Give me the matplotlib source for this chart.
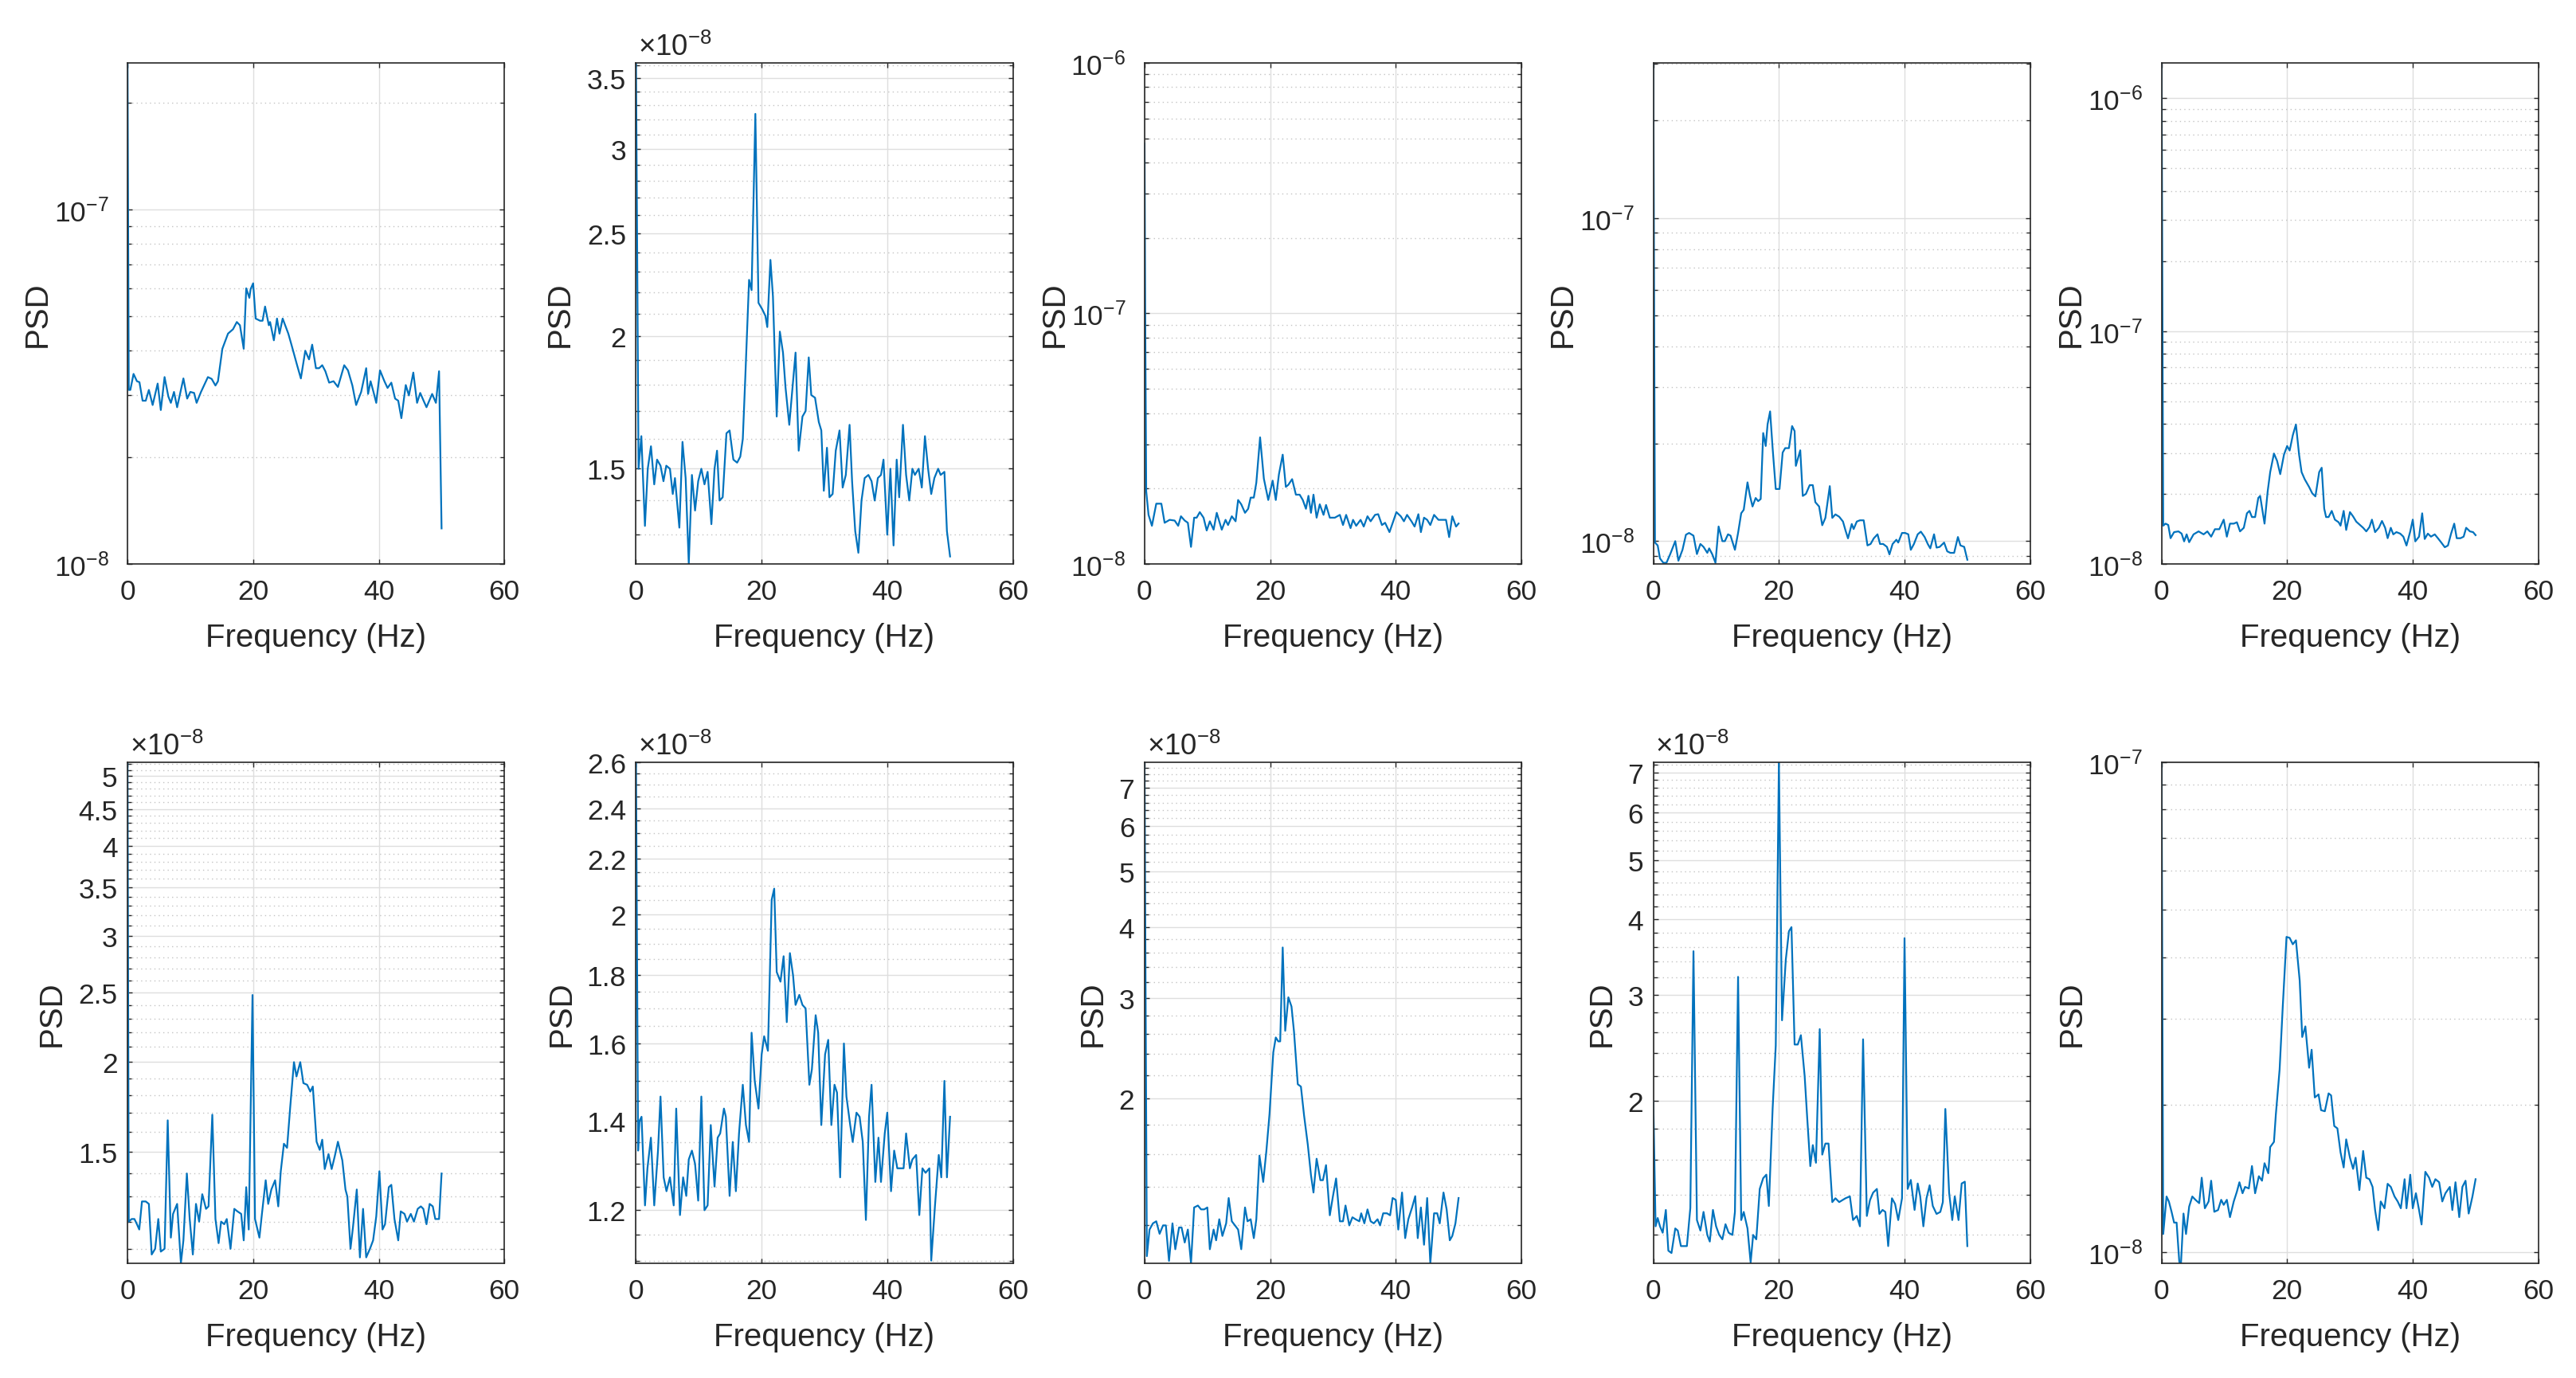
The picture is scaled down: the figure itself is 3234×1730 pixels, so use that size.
import numpy as np
import matplotlib.pyplot as plt
from matplotlib.ticker import (FixedLocator, FuncFormatter, LogLocator,
                               LogFormatterSciNotation, NullFormatter)

plt.rcParams['font.family'] = ['Liberation Sans', 'DejaVu Sans']
plt.rcParams['axes.unicode_minus'] = False
plt.rcParams['mathtext.fontset'] = 'custom'
plt.rcParams['mathtext.rm'] = 'Liberation Sans'

# PSD, units of 1e-8: (frequency Hz, value)
SCALE = 1e-8

psd_1 = [(0, 26.0), (0.2, 3.1), (0.45, 3.10), (0.96, 3.44), (1.5, 3.28), (1.9, 3.26), (2.4, 2.89), (2.9, 2.89),
         (3.4, 3.10), (4.0, 2.81), (4.8, 3.23), (5.3, 2.72), (5.9, 3.37), (6.5, 2.97), (6.9, 2.85), (7.4, 3.06),
         (7.9, 2.77), (8.9, 3.34), (9.5, 2.93), (10.0, 3.06), (10.6, 3.04), (11.0, 2.85), (11.7, 3.06), (12.8, 3.37),
         (13.4, 3.33), (14.0, 3.19), (14.4, 3.28), (15.1, 4.05), (16.0, 4.47), (16.8, 4.60), (17.4, 4.82), (17.9, 4.72),
         (18.5, 4.05), (18.9, 6.00), (19.4, 5.64), (19.6, 5.97), (20.0, 6.20), (20.4, 4.93), (21.1, 4.86), (21.5, 4.86),
         (21.9, 5.33), (22.5, 4.72), (22.7, 4.82), (23.3, 4.28), (23.8, 4.93), (24.2, 4.47), (24.7, 4.93), (25.6, 4.47),
         (26.1, 4.16), (27.0, 3.64), (27.6, 3.34), (28.3, 4.00), (28.9, 3.78), (29.4, 4.16), (30.0, 3.57), (30.5, 3.57),
         (31.0, 3.64), (31.5, 3.50), (32.1, 3.25), (32.8, 3.28), (33.5, 3.16), (34.5, 3.64), (35.1, 3.52), (35.8, 3.19),
         (36.4, 2.81), (37.2, 3.06), (38.0, 3.57), (38.3, 3.02), (38.7, 3.28), (39.2, 3.04), (39.6, 2.85), (40.2, 3.52),
         (40.9, 3.28), (41.4, 3.14), (42.0, 3.25), (42.6, 2.93), (43.1, 2.89), (43.6, 2.58), (44.3, 3.20), (44.8, 2.99),
         (45.5, 3.47), (46.1, 2.85), (46.6, 3.04), (47.1, 2.90), (47.6, 2.77), (48.5, 3.02), (49.1, 2.85), (49.6, 3.50),
         (50.0, 1.26)]

psd_2 = [(0, 3.62), (0.4, 1.50), (0.85, 1.61), (1.42, 1.325), (1.87, 1.50), (2.38, 1.575), (2.9, 1.45), (3.35, 1.53),
         (3.9, 1.51), (4.37, 1.46), (4.82, 1.51), (5.4, 1.50), (5.85, 1.42), (6.2, 1.47), (6.9, 1.32), (7.4, 1.59),
         (7.9, 1.47), (8.4, 1.22), (8.9, 1.48), (9.4, 1.37), (9.9, 1.46), (10.4, 1.50), (10.9, 1.45), (11.4, 1.49),
         (12.0, 1.33), (12.5, 1.50), (12.9, 1.56), (13.3, 1.40), (13.8, 1.41), (14.4, 1.62), (14.9, 1.63), (15.5, 1.53),
         (16.1, 1.52), (16.6, 1.54), (17.0, 1.60), (17.4, 1.83), (18.0, 2.26), (18.4, 2.21), (19.0, 3.24), (19.5, 2.15),
         (20.1, 2.12), (20.6, 2.09), (20.9, 2.04), (21.4, 2.36), (21.8, 2.18), (22.4, 1.68), (22.9, 2.02), (23.4, 1.93),
         (23.8, 1.79), (24.4, 1.65), (25.4, 1.93), (25.9, 1.56), (26.5, 1.68), (27.0, 1.70), (27.5, 1.91), (27.9, 1.76),
         (28.5, 1.75), (29.1, 1.66), (29.5, 1.63), (29.9, 1.43), (30.4, 1.57), (30.8, 1.41), (31.3, 1.42), (31.8, 1.56),
         (32.4, 1.63), (32.9, 1.44), (33.4, 1.48), (34.0, 1.65), (34.4, 1.46), (34.9, 1.31), (35.4, 1.25), (35.9, 1.40),
         (36.4, 1.47), (37.0, 1.48), (37.5, 1.46), (38.0, 1.40), (38.5, 1.47), (39.0, 1.48), (39.4, 1.53), (40.0, 1.30),
         (40.5, 1.50), (41.0, 1.27), (41.5, 1.53), (41.9, 1.41), (42.5, 1.65), (43.0, 1.48), (43.5, 1.40), (44.0, 1.50),
         (44.4, 1.48), (45.0, 1.50), (45.5, 1.44), (46.0, 1.61), (46.5, 1.50), (47.0, 1.42), (47.5, 1.47), (48.1, 1.50),
         (48.5, 1.48), (49.1, 1.49), (49.5, 1.31), (50.0, 1.24)]

psd_3 = [(0, 47.6), (0.1, 11.2), (0.27, 1.95), (0.64, 1.57), (1.18, 1.42), (1.87, 1.74), (2.68, 1.74), (3.2, 1.46),
         (4.0, 1.50), (4.8, 1.49), (5.36, 1.42), (5.8, 1.55), (6.4, 1.49), (6.9, 1.46), (7.4, 1.17), (7.9, 1.53),
         (8.3, 1.53), (8.8, 1.61), (9.4, 1.53), (9.9, 1.36), (10.4, 1.48), (11.0, 1.37), (11.5, 1.60), (12.3, 1.37),
         (12.9, 1.50), (13.3, 1.43), (13.9, 1.55), (14.5, 1.48), (14.9, 1.80), (15.4, 1.73), (16.0, 1.60), (16.5, 1.66),
         (16.9, 1.84), (17.4, 1.84), (17.8, 2.11), (18.4, 3.20), (19.0, 2.19), (19.7, 1.80), (20.4, 2.15), (20.9, 1.80),
         (21.4, 2.28), (22.0, 2.73), (22.5, 2.03), (22.9, 2.07), (23.5, 2.18), (24.1, 1.89), (24.7, 1.89), (25.2, 1.80),
         (25.7, 1.66), (26.1, 1.87), (26.5, 1.60), (26.9, 1.89), (27.4, 1.53), (27.9, 1.73), (28.5, 1.57), (28.9, 1.72),
         (29.5, 1.53), (30.3, 1.53), (31.1, 1.57), (31.6, 1.43), (32.1, 1.57), (32.8, 1.39), (33.2, 1.50), (33.7, 1.42),
         (34.4, 1.50), (34.9, 1.41), (35.5, 1.55), (36.0, 1.48), (36.7, 1.57), (37.2, 1.58), (37.8, 1.43), (38.3, 1.46),
         (39.0, 1.34), (39.6, 1.48), (40.1, 1.61), (40.8, 1.55), (41.3, 1.48), (41.8, 1.57), (42.5, 1.48), (43.0, 1.41),
         (43.6, 1.58), (44.0, 1.34), (44.5, 1.53), (45.0, 1.50), (45.5, 1.43), (46.1, 1.57), (46.8, 1.50), (47.4, 1.50),
         (48.0, 1.50), (48.5, 1.28), (49.0, 1.55), (49.6, 1.41), (50.0, 1.45)]

psd_4 = [(0, 30.2), (0.27, 0.99), (0.7, 0.97), (1.07, 0.884), (1.6, 0.857), (2.1, 0.857), (2.7, 0.912), (3.5, 1.0),
         (4.0, 0.87), (4.65, 0.94), (5.2, 1.047), (5.7, 1.06), (6.4, 1.04), (6.95, 0.912), (7.5, 0.98), (8.0, 0.96),
         (8.6, 0.92), (8.9, 0.95), (9.4, 0.91), (9.9, 0.857), (10.4, 1.11), (11.0, 1.0), (11.4, 1.0), (11.9, 1.05),
         (12.3, 1.04), (13.0, 0.94), (13.5, 1.06), (14.0, 1.22), (14.4, 1.25), (15.0, 1.52), (15.4, 1.38), (15.8, 1.28),
         (16.3, 1.36), (16.7, 1.33), (17.1, 1.35), (17.5, 2.16), (17.9, 1.97), (18.2, 2.30), (18.6, 2.52), (19.0, 1.94),
         (19.5, 1.45), (20.1, 1.45), (20.6, 1.88), (21.0, 1.94), (21.6, 1.94), (22.1, 2.27), (22.5, 2.19), (22.7, 1.71),
         (23.4, 1.91), (23.8, 1.38), (24.3, 1.40), (24.9, 1.49), (25.4, 1.49), (25.8, 1.32), (26.4, 1.28), (26.9, 1.12),
         (27.4, 1.18), (28.1, 1.48), (28.5, 1.18), (29.0, 1.21), (29.6, 1.19), (30.2, 1.15), (30.6, 1.08), (31.0, 1.02),
         (31.6, 1.13), (31.9, 1.09), (32.4, 1.15), (32.9, 1.16), (33.5, 1.16), (34.1, 0.97), (34.6, 0.98), (35.1, 1.02),
         (35.7, 1.05), (36.1, 0.98), (36.6, 0.98), (37.2, 0.96), (37.6, 0.91), (38.1, 0.98), (38.7, 1.01), (39.0, 0.99),
         (39.6, 1.06), (40.1, 1.06), (40.6, 1.05), (41.0, 0.94), (41.5, 0.98), (42.1, 1.05), (42.6, 1.07), (43.2, 1.03),
         (43.7, 0.98), (44.1, 0.95), (44.7, 1.05), (45.1, 0.955), (45.6, 0.96), (46.3, 0.99), (46.8, 0.93), (47.3, 0.92),
         (47.9, 0.92), (48.5, 1.03), (48.9, 0.97), (49.5, 0.96), (50.0, 0.876)]

psd_5 = [(0, 142.0), (0.27, 1.46), (0.64, 1.49), (1.07, 1.47), (1.44, 1.29), (2.0, 1.37), (2.7, 1.38), (3.2, 1.35),
         (3.6, 1.25), (4.0, 1.34), (4.4, 1.24), (5.1, 1.34), (5.9, 1.38), (6.7, 1.34), (7.3, 1.38), (7.9, 1.31),
         (8.5, 1.41), (9.2, 1.41), (9.9, 1.55), (10.4, 1.31), (10.9, 1.49), (11.5, 1.49), (12.0, 1.51), (12.5, 1.38),
         (13.1, 1.43), (13.6, 1.65), (14.0, 1.69), (14.4, 1.59), (14.9, 1.59), (15.4, 1.92), (15.7, 1.96), (16.4, 1.49),
         (16.9, 2.05), (17.3, 2.48), (17.9, 2.98), (18.4, 2.77), (18.9, 2.43), (19.5, 2.95), (20.0, 3.21), (20.4, 3.07),
         (20.9, 3.57), (21.4, 3.97), (21.9, 2.95), (22.3, 2.48), (22.8, 2.31), (23.5, 2.14), (24.0, 2.01), (24.5, 1.95),
         (25.1, 2.48), (25.5, 2.59), (25.9, 1.73), (26.2, 1.59), (26.6, 1.59), (27.1, 1.69), (27.6, 1.55), (28.2, 1.51),
         (28.5, 1.46), (29.0, 1.69), (29.4, 1.40), (30.0, 1.67), (30.5, 1.60), (31.0, 1.52), (31.6, 1.47), (32.1, 1.43),
         (32.6, 1.38), (33.1, 1.44), (33.5, 1.55), (34.0, 1.37), (34.6, 1.43), (35.1, 1.53), (35.6, 1.43), (36.0, 1.29),
         (36.5, 1.43), (36.9, 1.34), (37.4, 1.37), (38.0, 1.35), (38.5, 1.31), (39.0, 1.20), (39.6, 1.38), (40.0, 1.55),
         (40.4, 1.25), (41.0, 1.31), (41.5, 1.65), (41.9, 1.28), (42.4, 1.35), (42.9, 1.31), (43.5, 1.34), (44.0, 1.29),
         (44.5, 1.24), (45.1, 1.18), (45.6, 1.20), (46.1, 1.35), (46.6, 1.49), (47.0, 1.29), (47.6, 1.29), (48.1, 1.31),
         (48.5, 1.43), (49.1, 1.38), (49.6, 1.37), (50.0, 1.33)]

psd_6 = [(0, 5.23), (0.2, 1.20), (0.66, 1.21), (1.1, 1.21), (1.5, 1.19), (1.87, 1.17), (2.3, 1.28), (2.9, 1.28),
         (3.4, 1.27), (3.85, 1.08), (4.4, 1.10), (4.9, 1.21), (5.3, 1.09), (5.9, 1.10), (6.4, 1.66), (6.9, 1.14),
         (7.25, 1.23), (7.9, 1.27), (8.5, 1.05), (8.9, 1.13), (9.45, 1.40), (9.9, 1.21), (10.4, 1.08), (10.9, 1.27),
         (11.4, 1.20), (11.9, 1.31), (12.5, 1.25), (12.9, 1.26), (13.5, 1.69), (14.0, 1.21), (14.5, 1.12), (14.9, 1.20),
         (15.4, 1.19), (15.8, 1.21), (16.4, 1.10), (17.0, 1.25), (17.5, 1.24), (18.1, 1.23), (18.5, 1.13), (18.9, 1.34),
         (19.3, 1.17), (19.9, 2.48), (20.3, 1.21), (21.0, 1.14), (21.4, 1.23), (22.0, 1.37), (22.4, 1.27), (22.9, 1.33),
         (23.5, 1.37), (24.0, 1.26), (24.4, 1.41), (24.9, 1.54), (25.4, 1.52), (25.9, 1.73), (26.5, 2.00), (26.9, 1.91),
         (27.5, 2.00), (28.0, 1.87), (28.6, 1.86), (29.1, 1.82), (29.5, 1.85), (30.1, 1.55), (30.6, 1.51), (31.0, 1.56),
         (31.4, 1.42), (32.0, 1.49), (32.5, 1.42), (33.0, 1.48), (33.5, 1.55), (34.2, 1.46), (34.7, 1.33), (35.0, 1.30),
         (35.5, 1.10), (35.9, 1.18), (36.5, 1.33), (37.0, 1.07), (37.5, 1.25), (38.0, 1.07), (38.6, 1.10), (39.1, 1.13),
         (39.6, 1.22), (40.1, 1.41), (40.6, 1.17), (41.0, 1.19), (41.6, 1.34), (42.0, 1.35), (42.5, 1.21), (43.1, 1.13),
         (43.5, 1.24), (44.1, 1.23), (44.5, 1.20), (45.1, 1.23), (45.6, 1.20), (46.2, 1.25), (46.7, 1.26), (47.1, 1.25),
         (47.6, 1.19), (48.1, 1.27), (48.6, 1.26), (49.0, 1.21), (49.6, 1.21), (50.0, 1.40)]

psd_7 = [(0, 2.60), (0.33, 1.33), (0.55, 1.40), (0.88, 1.41), (1.43, 1.21), (1.82, 1.29), (2.37, 1.36), (2.9, 1.21),
         (3.5, 1.33), (3.9, 1.46), (4.4, 1.27), (4.85, 1.24), (5.4, 1.27), (6.0, 1.21), (6.4, 1.43), (7.0, 1.19),
         (7.5, 1.27), (8.0, 1.23), (8.4, 1.31), (8.9, 1.33), (9.4, 1.30), (9.9, 1.22), (10.4, 1.46), (10.9, 1.20),
         (11.4, 1.21), (11.9, 1.39), (12.5, 1.25), (13.0, 1.36), (13.4, 1.37), (14.0, 1.43), (14.3, 1.41), (14.9, 1.23),
         (15.4, 1.35), (15.9, 1.24), (16.4, 1.37), (17.0, 1.49), (17.5, 1.39), (18.0, 1.35), (18.4, 1.63), (18.9, 1.50),
         (19.5, 1.43), (20.0, 1.57), (20.4, 1.62), (21.0, 1.58), (21.6, 2.05), (22.0, 2.09), (22.4, 1.81), (23.0, 1.78),
         (23.5, 1.86), (24.0, 1.66), (24.5, 1.87), (25.0, 1.80), (25.4, 1.71), (26.0, 1.74), (26.5, 1.71), (27.0, 1.70),
         (27.6, 1.49), (28.0, 1.53), (28.6, 1.68), (29.0, 1.63), (29.5, 1.39), (30.1, 1.57), (30.6, 1.61), (31.1, 1.39),
         (31.6, 1.49), (32.0, 1.47), (32.5, 1.27), (33.1, 1.60), (33.5, 1.46), (34.1, 1.39), (34.5, 1.35), (35.1, 1.42),
         (35.6, 1.41), (36.1, 1.35), (36.6, 1.18), (37.1, 1.41), (37.5, 1.49), (38.1, 1.26), (38.6, 1.36), (39.0, 1.26),
         (39.6, 1.37), (40.0, 1.42), (40.6, 1.24), (41.1, 1.33), (41.6, 1.29), (42.1, 1.29), (42.6, 1.29), (43.0, 1.37),
         (43.6, 1.29), (44.0, 1.31), (44.6, 1.32), (45.1, 1.19), (45.6, 1.29), (46.1, 1.28), (46.7, 1.29), (47.0, 1.10),
         (47.6, 1.21), (48.2, 1.32), (48.6, 1.27), (49.1, 1.50), (49.5, 1.27), (50.0, 1.41)]

psd_8 = [(0, 7.77), (0.37, 1.06), (0.8, 1.18), (1.34, 1.21), (1.87, 1.22), (2.4, 1.16), (2.95, 1.20), (3.4, 1.20),
         (3.9, 1.04), (4.45, 1.21), (4.9, 1.09), (5.5, 1.19), (5.9, 1.19), (6.4, 1.12), (6.9, 1.18), (7.4, 1.03),
         (7.9, 1.29), (8.5, 1.30), (9.0, 1.28), (9.5, 1.28), (10.0, 1.29), (10.4, 1.09), (11.0, 1.18), (11.4, 1.13),
         (11.9, 1.23), (12.4, 1.15), (13.0, 1.21), (13.4, 1.34), (13.9, 1.22), (14.4, 1.20), (14.9, 1.18), (15.4, 1.09),
         (16.0, 1.29), (16.4, 1.22), (16.9, 1.23), (17.4, 1.14), (17.8, 1.23), (18.3, 1.59), (18.9, 1.43), (19.4, 1.62),
         (19.9, 1.88), (20.5, 2.41), (20.9, 2.56), (21.3, 2.52), (21.6, 2.52), (22.0, 3.68), (22.4, 2.63), (22.9, 3.01),
         (23.4, 2.90), (23.8, 2.62), (24.4, 2.12), (24.9, 2.10), (25.4, 1.87), (26.0, 1.66), (26.5, 1.47), (26.9, 1.37),
         (27.4, 1.57), (28.0, 1.44), (28.4, 1.44), (28.9, 1.53), (29.5, 1.25), (30.0, 1.35), (30.5, 1.45), (31.1, 1.22),
         (31.6, 1.22), (32.0, 1.30), (32.6, 1.20), (33.1, 1.24), (33.6, 1.23), (34.2, 1.22), (34.5, 1.26), (35.0, 1.21),
         (35.5, 1.28), (36.0, 1.22), (36.5, 1.21), (37.1, 1.23), (37.5, 1.20), (38.0, 1.26), (38.6, 1.26), (39.1, 1.25),
         (39.5, 1.34), (40.0, 1.33), (40.4, 1.18), (41.0, 1.37), (41.5, 1.14), (42.0, 1.23), (42.6, 1.29), (43.1, 1.35),
         (43.5, 1.14), (44.0, 1.29), (44.5, 1.11), (45.0, 1.34), (45.5, 1.03), (46.1, 1.26), (46.6, 1.26), (47.0, 1.21),
         (47.6, 1.37), (48.1, 1.28), (48.6, 1.13), (49.0, 1.15), (49.5, 1.21), (50.0, 1.34)]

psd_9 = [(0, 2.0), (0.37, 1.24), (0.7, 1.28), (1.07, 1.24), (1.5, 1.21), (2.0, 1.32), (2.4, 1.13), (2.9, 1.12),
         (3.5, 1.23), (3.9, 1.22), (4.4, 1.15), (5.35, 1.15), (5.9, 1.33), (6.4, 3.54), (6.95, 1.27), (7.5, 1.22),
         (8.0, 1.31), (8.6, 1.20), (9.0, 1.17), (9.5, 1.32), (10.0, 1.24), (10.5, 1.20), (11.0, 1.18), (11.5, 1.25),
         (12.0, 1.21), (12.6, 1.20), (13.0, 1.31), (13.5, 3.21), (14.0, 1.27), (14.4, 1.31), (15.0, 1.23), (15.5, 1.08),
         (15.9, 1.20), (16.4, 1.18), (16.95, 1.43), (17.5, 1.49), (18.0, 1.51), (18.4, 1.34), (19.0, 1.94), (19.5, 2.47),
         (20.0, 7.28), (20.5, 2.72), (21.1, 3.43), (21.6, 3.82), (22.0, 3.88), (22.5, 2.48), (23.0, 2.48), (23.5, 2.57),
         (24.1, 2.20), (24.5, 1.88), (25.0, 1.56), (25.4, 1.69), (25.9, 1.58), (26.5, 2.63), (26.9, 1.63), (27.4, 1.70),
         (27.9, 1.70), (28.5, 1.36), (29.0, 1.38), (29.6, 1.36), (30.1, 1.37), (30.6, 1.38), (31.3, 1.39), (31.8, 1.27),
         (32.4, 1.29), (32.9, 1.24), (33.4, 2.53), (34.0, 1.29), (34.5, 1.37), (35.0, 1.41), (35.6, 1.43), (36.0, 1.30),
         (36.5, 1.32), (36.95, 1.31), (37.4, 1.15), (38.0, 1.38), (38.5, 1.35), (39.0, 1.27), (39.6, 1.38), (40.0, 3.72),
         (40.5, 1.43), (41.0, 1.48), (41.6, 1.32), (42.1, 1.46), (42.5, 1.39), (43.0, 1.24), (43.5, 1.38), (44.0, 1.45),
         (44.5, 1.34), (45.1, 1.30), (45.7, 1.31), (46.1, 1.36), (46.5, 1.94), (47.1, 1.41), (47.6, 1.27), (48.0, 1.39),
         (48.6, 1.27), (49.1, 1.46), (49.6, 1.47), (50.0, 1.15)]

psd_10 = [(0, 10.0), (0.27, 1.09), (0.8, 1.30), (1.17, 1.27), (1.6, 1.21), (2.0, 1.15), (2.4, 1.15), (2.83, 0.956),
          (3.1, 0.95), (3.5, 1.20), (3.9, 1.09), (4.4, 1.24), (4.9, 1.30), (5.4, 1.28), (6.0, 1.26), (6.4, 1.42),
          (6.9, 1.23), (7.5, 1.27), (7.9, 1.40), (8.4, 1.21), (9.0, 1.22), (9.5, 1.28), (9.9, 1.25), (10.4, 1.28),
          (10.9, 1.18), (11.5, 1.27), (12.0, 1.33), (12.4, 1.39), (12.9, 1.32), (13.3, 1.36), (13.9, 1.35), (14.4, 1.50),
          (14.9, 1.32), (15.5, 1.43), (16.0, 1.40), (16.4, 1.52), (17.0, 1.45), (17.3, 1.64), (17.9, 1.68), (18.2, 1.91),
          (18.8, 2.36), (19.3, 3.17), (19.9, 4.40), (20.4, 4.38), (20.9, 4.25), (21.4, 4.33), (22.0, 3.58), (22.4, 2.75),
          (22.9, 2.89), (23.5, 2.38), (23.9, 2.59), (24.4, 2.07), (25.0, 2.10), (25.4, 1.95), (26.0, 1.94), (26.6, 2.11),
          (27.0, 2.09), (27.5, 1.81), (28.0, 1.79), (28.5, 1.60), (29.0, 1.49), (29.4, 1.70), (30.0, 1.56), (30.5, 1.48),
          (30.9, 1.56), (31.5, 1.34), (32.1, 1.61), (32.6, 1.42), (33.1, 1.41), (33.6, 1.36), (34.0, 1.22), (34.5, 1.11),
          (34.9, 1.27), (35.5, 1.23), (36.0, 1.38), (36.5, 1.36), (37.1, 1.30), (37.6, 1.27), (38.1, 1.23), (38.7, 1.41),
          (39.0, 1.23), (39.6, 1.44), (40.0, 1.23), (40.5, 1.32), (41.0, 1.22), (41.4, 1.14), (42.0, 1.46), (42.6, 1.42),
          (43.1, 1.36), (43.6, 1.41), (44.2, 1.39), (44.7, 1.27), (45.2, 1.32), (45.9, 1.36), (46.3, 1.22), (46.8, 1.39),
          (47.4, 1.18), (47.9, 1.36), (48.4, 1.40), (48.9, 1.20), (49.5, 1.30), (50.0, 1.41)]

panels = [psd_1, psd_2, psd_3, psd_4, psd_5, psd_6, psd_7, psd_8, psd_9, psd_10]

# y limits (units of 1e-8)
ylims = [(1.0, 26.0), (1.22, 3.62), (1.0, 100.0), (0.85, 30.2), (1.0, 142.0),
         (1.05, 5.23), (1.095, 2.60), (1.03, 7.77), (1.077, 7.28), (0.95, 10.0)]

# None -> decade labels; otherwise labelled ticks (x1e-8) and minor step
major_ticks = [None, [1.5, 2, 2.5, 3, 3.5], None, None, None,
               [1.5, 2, 2.5, 3, 3.5, 4, 4.5, 5], [1.2, 1.4, 1.6, 1.8, 2.0, 2.2, 2.4, 2.6],
               [2, 3, 4, 5, 6, 7], [2, 3, 4, 5, 6, 7], None]
minor_steps = [None, 0.1, None, None, None, 0.1, 0.05, 0.2, 0.2, None]

# layout
lefts = [0.0495, 0.2469, 0.4443, 0.6418, 0.8391]
bottoms = [0.5904, 0.0832]
W, H = 0.1463, 0.3635
ylab_x = [-0.239, -0.203, -0.240, -0.240, -0.240, -0.202, -0.199, -0.137, -0.137, -0.239]

LINE = '#0072BD'
AX = '#262626'
TICK_FS = 25.5
LABEL_FS = 29

fig = plt.figure(figsize=(32.34, 17.31), dpi=100)

for i, pts in enumerate(panels):
    row, col = divmod(i, 5)
    ax = fig.add_axes([lefts[col], bottoms[row], W, H])
    f = np.array([p[0] for p in pts])
    v = np.array([p[1] for p in pts]) * SCALE
    ax.semilogy(f, v, color=LINE, lw=1.6)

    lo, hi = ylims[i]
    ax.set_xlim(0, 60)
    ax.set_ylim(lo * SCALE, hi * SCALE)
    ax.set_xticks([0, 20, 40, 60])

    if major_ticks[i] is None:
        ax.yaxis.set_major_locator(LogLocator(base=10, numticks=10))
        ax.yaxis.set_major_formatter(LogFormatterSciNotation())
        ax.yaxis.set_minor_locator(LogLocator(base=10, subs=np.arange(2, 10), numticks=30))
        ypad = 17
    else:
        majors = np.array(major_ticks[i])
        step = minor_steps[i]
        k0 = int(np.ceil(lo / step - 1e-6))
        k1 = int(np.floor(hi / step + 1e-6))
        mins = [round(k * step, 4) for k in range(k0, k1 + 1)]
        mins = [m for m in mins if np.min(np.abs(majors - m)) > 1e-6]
        ax.yaxis.set_major_locator(FixedLocator(majors * SCALE))
        ax.yaxis.set_major_formatter(FuncFormatter(lambda y, _: f'{y / SCALE:g}'))
        ax.yaxis.set_minor_locator(FixedLocator(np.array(mins) * SCALE))
        ax.text(0.006, 1.016, r'$\times\mathdefault{10^{-8}}$', transform=ax.transAxes,
                ha='left', va='baseline', fontsize=26.5, color=AX)
        ypad = 9
    ax.yaxis.set_minor_formatter(NullFormatter())

    ax.set_axisbelow(True)
    ax.grid(True, which='major', color='#dedede', lw=1.0, ls='-')
    ax.grid(True, which='minor', axis='y', color='#c4c4c4', lw=1.0, ls=(0, (1, 3)))

    for s in ax.spines.values():
        s.set_color(AX)
        s.set_linewidth(1.2)
    ax.tick_params(which='both', direction='in', top=True, right=True, colors=AX,
                   labelsize=TICK_FS, width=1.0)
    ax.tick_params(which='major', length=4.5)
    ax.tick_params(which='minor', length=3.5)
    ax.tick_params(axis='x', pad=13)
    ax.tick_params(axis='y', pad=ypad)

    ax.set_xlabel('Frequency (Hz)', fontsize=LABEL_FS, color=AX)
    ax.set_ylabel('PSD', fontsize=LABEL_FS, color=AX)
    ax.xaxis.set_label_coords(0.5, -0.146)
    ax.xaxis.label.set_va('center')
    ax.yaxis.set_label_coords(ylab_x[i], 0.5)
    ax.yaxis.label.set_va('center')

fig.savefig('out.png', dpi=100, facecolor='white')
